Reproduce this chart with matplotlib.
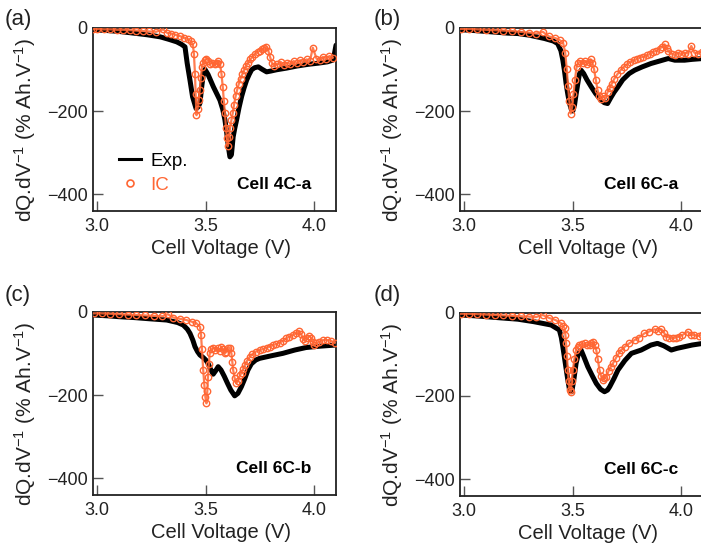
import numpy as np
import matplotlib
matplotlib.use("Agg")
import matplotlib.pyplot as plt
from matplotlib.lines import Line2D

plt.rcParams['font.family'] = ['Liberation Sans', 'DejaVu Sans']
plt.rcParams['mathtext.fontset'] = 'custom'
plt.rcParams['mathtext.rm'] = 'Liberation Sans'
plt.rcParams['mathtext.it'] = 'Liberation Sans:italic'

ORANGE = '#FF6633'

# ---- data: (cell voltage V, dQ/dV % Ah/V) ----
# panel (a) Cell 4C-a
a_exp_v = [2.98, 3.05, 3.10, 3.167, 3.23, 3.29, 3.33, 3.366, 3.388, 3.404, 3.414, 3.427,
           3.439, 3.455, 3.465, 3.473, 3.481, 3.489, 3.496, 3.51, 3.535, 3.55, 3.565, 3.578,
           3.588, 3.597, 3.604, 3.611, 3.618, 3.626, 3.634, 3.642, 3.653, 3.665, 3.676,
           3.688, 3.70, 3.711, 3.725, 3.742, 3.76, 3.78, 3.80, 3.826, 3.872, 3.92, 3.97,
           4.02, 4.06, 4.085, 4.093, 4.10]
a_exp = [-5, -7, -9, -13, -17, -22, -28, -34, -40, -46, -85, -126,
         -166, -194, -190, -181, -142, -109, -100, -112, -142, -158, -174, -196,
         -221, -255, -286, -310, -305, -262, -240, -221, -192, -165, -145,
         -126, -112, -101, -96, -94, -100, -106, -104, -101, -97, -92, -88,
         -85, -82, -78, -62, -42]
a_ic_v = [2.98, 3.00, 3.03, 3.06, 3.09, 3.12, 3.15, 3.18, 3.21, 3.24, 3.27, 3.304,
          3.32, 3.34, 3.36, 3.38, 3.40, 3.42, 3.43, 3.44, 3.445, 3.45, 3.453, 3.457,
          3.462, 3.467, 3.472, 3.477, 3.482, 3.488, 3.495, 3.503, 3.512, 3.52, 3.53,
          3.54, 3.55, 3.558, 3.565, 3.572, 3.578, 3.583, 3.588, 3.593, 3.597, 3.60,
          3.606, 3.612, 3.618, 3.624, 3.63, 3.637, 3.644, 3.652, 3.66, 3.668, 3.676,
          3.685, 3.695, 3.705, 3.715, 3.727, 3.74, 3.75, 3.76, 3.77, 3.779, 3.788,
          3.796, 3.805, 3.815, 3.83, 3.845, 3.86, 3.875, 3.89, 3.905, 3.92, 3.935,
          3.95, 3.965, 3.98, 3.993, 4.01, 4.025, 4.04, 4.055, 4.07, 4.085]
a_ic = [-3, -3, -4, -4, -5, -5, -6, -7, -8, -9, -10, -4,
        -12, -14, -17, -20, -24, -28, -32, -40, -62, -110, -158, -210,
        -195, -174, -150, -120, -94, -84, -78, -74, -80, -86, -84,
        -88, -84, -80, -86, -110, -142, -175, -205, -240, -265, -285,
        -262, -240, -222, -205, -185, -165, -150, -135, -122, -112, -102,
        -92, -84, -76, -70, -62, -58, -55, -52, -48, -46, -55,
        -70, -85, -92, -88, -82, -90, -84, -88, -80, -85, -78,
        -82, -76, -80, -48, -74, -78, -70, -74, -68, -72]

# panel (b) Cell 6C-a
b_exp_v = [2.985, 3.05, 3.10, 3.15, 3.20, 3.246, 3.30, 3.37, 3.41, 3.43, 3.445, 3.454,
           3.462, 3.469, 3.477, 3.485, 3.493, 3.50, 3.508, 3.515, 3.523, 3.53, 3.538,
           3.55, 3.565, 3.585, 3.605, 3.63, 3.645, 3.66, 3.675, 3.69, 3.708, 3.73, 3.76,
           3.785, 3.82, 3.86, 3.90, 3.94, 3.97, 4.015, 4.05, 4.10]
b_exp = [-5, -7, -9, -11, -13, -14, -18, -26, -32, -38, -55, -78,
         -105, -134, -160, -182, -196, -200, -185, -160, -134, -112, -102,
         -110, -125, -142, -158, -174, -180, -182, -168, -155, -142, -125, -110,
         -102, -94, -86, -80, -74, -78, -78, -76, -74]
b_ic_v = [2.985, 3.02, 3.06, 3.10, 3.14, 3.18, 3.22, 3.26, 3.30, 3.33, 3.362, 3.39,
          3.42, 3.44, 3.455, 3.465, 3.472, 3.478, 3.484, 3.49, 3.497, 3.503, 3.51,
          3.517, 3.525, 3.535, 3.545, 3.555, 3.565, 3.575, 3.583, 3.59, 3.598, 3.606,
          3.614, 3.622, 3.63, 3.64, 3.65, 3.66, 3.67, 3.68, 3.692, 3.705, 3.72, 3.735,
          3.75, 3.765, 3.78, 3.795, 3.81, 3.825, 3.84, 3.855, 3.87, 3.885, 3.90, 3.912,
          3.923, 3.932, 3.94, 3.955, 3.97, 3.985, 4.00, 4.015, 4.03, 4.046, 4.06, 4.077,
          4.095]
b_ic = [-3, -3, -4, -5, -6, -7, -8, -10, -12, -14, -10, -21,
        -25, -30, -36, -60, -100, -140, -175, -206, -190, -160, -125,
        -95, -84, -80, -84, -80, -86, -82, -76, -84, -100, -125,
        -150, -165, -172, -164, -168, -155, -145, -134, -122, -112, -102, -94,
        -88, -82, -78, -76, -72, -70, -66, -64, -58, -56, -50, -46,
        -40, -48, -56, -62, -66, -60, -64, -60, -62, -44, -60, -62,
        -58]

# panel (c) Cell 6C-b
c_exp_v = [2.983, 3.05, 3.10, 3.167, 3.24, 3.32, 3.37, 3.396, 3.415, 3.427, 3.44, 3.45,
           3.462, 3.473, 3.488, 3.50, 3.51, 3.52, 3.534, 3.545, 3.557, 3.57, 3.585, 3.60,
           3.615, 3.633, 3.648, 3.664, 3.68, 3.694, 3.71, 3.73, 3.748, 3.80, 3.855, 3.91,
           3.962, 4.02, 4.10]
c_exp = [-8, -10, -12, -14, -17, -20, -26, -32, -42, -52, -68, -84,
         -96, -104, -110, -116, -124, -136, -150, -142, -132, -140, -155, -172,
         -188, -202, -196, -180, -160, -140, -125, -116, -112, -106, -100, -92,
         -86, -83, -80]
c_ic_v = [2.983, 3.02, 3.06, 3.10, 3.14, 3.18, 3.22, 3.26, 3.30, 3.325, 3.35, 3.38,
          3.41, 3.435, 3.457, 3.473, 3.478, 3.482, 3.488, 3.493, 3.498, 3.503, 3.507,
          3.51, 3.514, 3.518, 3.526, 3.534, 3.544, 3.554, 3.564, 3.572, 3.58, 3.588,
          3.595, 3.603, 3.61, 3.618, 3.622, 3.626, 3.633, 3.641, 3.649, 3.658, 3.665,
          3.672, 3.68, 3.69, 3.703, 3.715, 3.73, 3.748, 3.765, 3.78, 3.795, 3.81, 3.825,
          3.84, 3.855, 3.871, 3.885, 3.90, 3.917, 3.93, 3.94, 3.948, 3.955, 3.965,
          3.975, 3.985, 3.993, 4.00, 4.01, 4.023, 4.04, 4.06, 4.075, 4.095]
c_ic = [-4, -4, -5, -6, -7, -8, -9, -10, -11, -6, -14, -17,
        -20, -24, -28, -36, -56, -90, -140, -175, -205, -220, -190,
        -156, -125, -100, -90, -86, -92, -88, -94, -84, -90, -100,
        -96, -88, -86, -100, -120, -140, -160, -172, -166, -152, -146,
        -138, -128, -118, -108, -102, -96, -92, -90, -86, -84, -80, -78,
        -74, -70, -64, -60, -56, -52, -46, -54, -66, -70, -64,
        -58, -62, -72, -80, -76, -72, -68, -68, -70, -74]

# panel (d) Cell 6C-c
d_exp_v = [2.985, 3.05, 3.10, 3.17, 3.246, 3.32, 3.40, 3.438, 3.447, 3.454, 3.462, 3.47,
           3.478, 3.485, 3.495, 3.505, 3.515, 3.525, 3.538, 3.55, 3.569, 3.59, 3.608,
           3.628, 3.646, 3.66, 3.67, 3.69, 3.708, 3.74, 3.77, 3.815, 3.86, 3.89, 3.92,
           3.954, 3.98, 4.015, 4.05, 4.10]
d_exp = [-6, -8, -10, -13, -16, -22, -30, -42, -60, -82, -110, -138,
         -165, -186, -190, -160, -122, -100, -90, -105, -130, -152, -170,
         -184, -190, -186, -178, -158, -138, -115, -98, -90, -78, -74, -80,
         -90, -86, -82, -78, -74]
d_ic_v = [2.985, 3.02, 3.06, 3.10, 3.14, 3.18, 3.22, 3.26, 3.30, 3.33, 3.362, 3.39,
          3.42, 3.446, 3.455, 3.462, 3.466, 3.469, 3.473, 3.477, 3.481, 3.485, 3.49,
          3.495, 3.50, 3.507, 3.515, 3.522, 3.53, 3.542, 3.554, 3.565, 3.577, 3.585,
          3.592, 3.60, 3.608, 3.615, 3.623, 3.63, 3.638, 3.646, 3.654, 3.665, 3.675,
          3.685, 3.70, 3.712, 3.723, 3.74, 3.76, 3.785, 3.805, 3.83, 3.85, 3.877, 3.893,
          3.908, 3.92, 3.93, 3.945, 3.96, 3.975, 3.99, 4.005, 4.03, 4.045, 4.06, 4.08,
          4.097]
d_ic = [-3, -3, -4, -5, -6, -7, -8, -9, -10, -11, -6, -13,
        -18, -26, -32, -38, -55, -74, -105, -138, -165, -186, -190,
        -165, -138, -112, -90, -82, -78, -76, -74, -78, -78, -74,
        -70, -78, -90, -112, -138, -152, -162, -158, -154, -140, -130,
        -122, -108, -98, -90, -82, -74, -66, -60, -50, -46, -40, -44,
        -40, -48, -58, -60, -62, -60, -58, -54, -46, -54, -54, -56,
        -54]

panels = [
    ('(a)', 'Cell 4C-a', a_exp_v, a_exp, a_ic_v, a_ic),
    ('(b)', 'Cell 6C-a', b_exp_v, b_exp, b_ic_v, b_ic),
    ('(c)', 'Cell 6C-b', c_exp_v, c_exp, c_ic_v, c_ic),
    ('(d)', 'Cell 6C-c', d_exp_v, d_exp, d_ic_v, d_ic),
]

W, H = 701, 543
fig = plt.figure(figsize=(W / 100, H / 100), dpi=100)

# axes boxes in pixels: left, top, right, bottom
boxes = [(93, 27.7, 336, 211), (460, 27.7, 703, 211),
         (93, 311.7, 336, 495), (460, 312.5, 703, 496)]
label_pos = [(5, 20), (374, 20), (5, 295), (374, 295)]

for i, (tag, cell, ev, ey, iv, iy) in enumerate(panels):
    l, t, r, b = boxes[i]
    ax = fig.add_axes([l / W, 1 - b / H, (r - l) / W, (b - t) / H])
    ax.plot(ev, ey, color='black', lw=3.6, solid_capstyle='round',
            solid_joinstyle='round', zorder=2)
    # IC: dense open circles, joined by a thin trace like the overlapping rings
    ax.plot(iv, iy, color=ORANGE, lw=1.6, alpha=0.85, zorder=3)
    ax.plot(iv, iy, ls='none', marker='o', ms=4.6, mew=1.0, mec=ORANGE,
            mfc='none', zorder=4)
    ax.set_xlim(2.98, 4.10)
    ax.set_ylim(-440, 0)
    ax.set_xticks([3.0, 3.5, 4.0])
    ax.set_xticklabels(['3.0', '3.5', '4.0'])
    ax.set_yticks([0, -200, -400])
    ax.tick_params(direction='in', length=7.5, width=1, color='#555555',
                   labelsize=13, labelcolor='#222222')
    ax.tick_params(axis='x', pad=5)
    ax.tick_params(axis='y', pad=4)
    for s in ax.spines.values():
        s.set_linewidth(1.3)
        s.set_color('#222222')
    ax.set_xlabel('Cell Voltage (V)', fontsize=14.5, color='#222222')
    ax.xaxis.set_label_coords(0.525, -0.155)
    ax.set_ylabel(r'dQ.dV$^{-1}$ (% Ah.V$^{-1}$)', fontsize=15, color='#222222',
                  va='center')
    ax.yaxis.set_label_coords(-0.28, 0.44)
    ax.text(0.90, 0.145, cell, transform=ax.transAxes, ha='right', va='center',
            fontsize=12.5, fontweight='bold')
    fig.text(label_pos[i][0] / W, 1 - label_pos[i][1] / H, tag, fontsize=16,
             ha='left', va='center', color='#222222')
    if i == 0:
        handles = [Line2D([], [], color='black', lw=2.2),
                   Line2D([], [], ls='none', marker='o', ms=5, mew=1.2,
                          mec=ORANGE, mfc='white')]
        ax.legend(handles, ['Exp.', 'IC'], loc='lower left',
                  bbox_to_anchor=(0.105, 0.095), frameon=False, fontsize=13.5,
                  handlelength=1.2, handletextpad=0.5, labelspacing=0.35,
                  borderpad=0, borderaxespad=0, labelcolor=['black', ORANGE])

fig.savefig('out.png', dpi=100)
